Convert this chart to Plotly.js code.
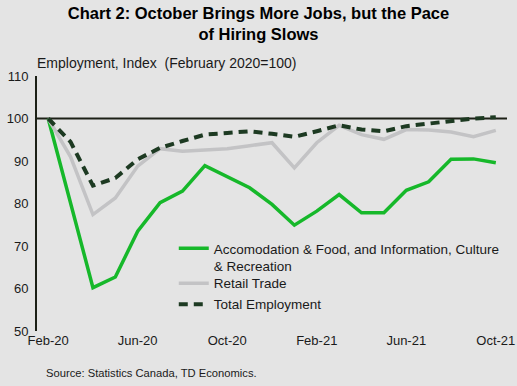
<!DOCTYPE html>
<html>
<head>
<meta charset="utf-8">
<script src="https://cdn.plot.ly/plotly-3.0.1.min.js"></script>
<style>html,body{margin:0;padding:0;background:#e4e4e4;}#chart{width:517px;height:386px;}</style>
</head>
<body>
<div id="chart"></div>
<script>
const months = ["Feb-20","Mar-20","Apr-20","May-20","Jun-20","Jul-20","Aug-20","Sep-20","Oct-20","Nov-20","Dec-20",
  "Jan-21","Feb-21","Mar-21","Apr-21","May-21","Jun-21","Jul-21","Aug-21","Sep-21","Oct-21"];
const tickLabels = ["Feb-20","Jun-20","Oct-20","Feb-21","Jun-21","Oct-21"];
const accomInfo = [100, 80, 60.2, 62.7, 73.5, 80.2, 82.9, 88.9, 86.3, 83.7, 79.8, 74.9, 78.2, 82.1, 77.8, 77.8, 83.1, 85.1, 90.4, 90.5, 89.6];
const retail = [100, 91, 77.4, 81.3, 88.8, 92.9, 92.3, 92.7, 92.9, 93.6, 94.3, 88.4, 94.3, 98.4, 96.2, 95.1, 97.4, 97.3, 96.8, 95.7, 97.2];
const total = [100, 94.5, 84.2, 86.0, 90.4, 93.1, 94.7, 96.2, 96.6, 97.0, 96.4, 95.7, 97.0, 98.4, 97.4, 97.0, 98.2, 98.8, 99.2, 100.0, 100.3];
const seriesNames = ["Accomodation & Food, and Information, Culture<br>& Recreation", "Retail Trade", "Total Employment"];

const font = "Liberation Sans, Arial, sans-serif";
const traces = [
  {x: months, y: accomInfo, name: seriesNames[0], type: "scatter", mode: "lines",
   line: {color: "#16b82a", width: 3.5}, legend: "legend"},
  {x: months, y: retail, name: seriesNames[1], type: "scatter", mode: "lines",
   line: {color: "#c3c3c5", width: 3.5}, legend: "legend2"},
  {x: months, y: total, name: seriesNames[2], type: "scatter", mode: "lines",
   line: {color: "#1d3a22", width: 4, dash: "9px,6px"}, legend: "legend3"}
];
const legendBase = {x: 0.291, xanchor: "left", yanchor: "top", bgcolor: "rgba(0,0,0,0)",
  valign: "top", font: {size: 13.5, color: "#1a1a1a"}};
const layout = {
  width: 517, height: 386,
  paper_bgcolor: "#e4e4e4", plot_bgcolor: "#e4e4e4",
  margin: {l: 37, r: 10, t: 76, b: 55},
  font: {family: font, size: 13, color: "#1a1a1a"},
  title: {text: "<b>Chart 2: October Brings More Jobs, but the Pace<br>of Hiring Slows</b>",
    x: 0.5, xanchor: "center", y: 0.951, yanchor: "top", yref: "container",
    font: {family: font, size: 16.5, color: "#000000"}},
  xaxis: {type: "category", range: [-0.5, 20.5], tickmode: "array", tickvals: tickLabels, ticktext: tickLabels,
    showgrid: false, zeroline: false, showline: false, ticks: "", tickfont: {size: 13}},
  yaxis: {range: [50, 110], dtick: 10, showgrid: false, zeroline: false, showline: true,
    linecolor: "#1c2016", linewidth: 2, ticks: "", tickfont: {size: 13}, ticklabelstandoff: 4},
  shapes: [{type: "line", xref: "paper", x0: 0, x1: 1, yref: "y", y0: 100, y1: 100,
    line: {color: "#1c2016", width: 2}, layer: "below"}],
  showlegend: true,
  legend: Object.assign({}, legendBase, {y: 0.384}),
  legend2: Object.assign({}, legendBase, {y: 0.2475}),
  legend3: Object.assign({}, legendBase, {y: 0.165}),
  annotations: [
    {text: "Employment, Index  (February 2020=100)", xref: "paper", yref: "paper", x: -0.004, y: 1.0,
     xanchor: "left", yanchor: "bottom", yshift: 3, showarrow: false, font: {size: 14, color: "#1a1a1a"}},
    {text: "Source: Statistics Canada, TD Economics.", xref: "paper", yref: "paper", x: 0.015, y: -0.165,
     xanchor: "left", yanchor: "middle", showarrow: false, font: {size: 11.2, color: "#1a1a1a"}}
  ]
};
Plotly.newPlot("chart", traces, layout, {displayModeBar: false, staticPlot: true});
</script>
</body>
</html>
